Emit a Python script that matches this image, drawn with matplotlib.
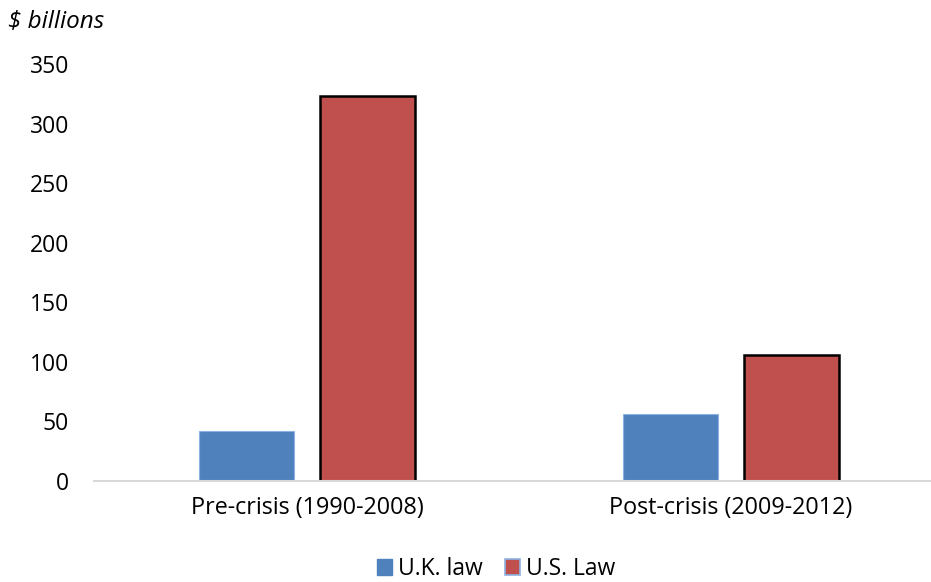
import numpy as np
import matplotlib
matplotlib.use("Agg")
import matplotlib.pyplot as plt
from matplotlib.patches import Patch

plt.rcParams['font.family'] = ['Open Sans', 'DejaVu Sans']

# data ($ billions)
categories = ['Pre-crisis (1990-2008)', 'Post-crisis (2009-2012)']
uk_law = [42, 56]
us_law = [323, 106]
series_names = ['U.K. law', 'U.S. Law']
yticks = [0, 50, 100, 150, 200, 250, 300, 350]

fig = plt.figure(figsize=(9.31, 5.82), dpi=100)
ax = fig.add_axes([94/931, 1 - 481/582, 836/931, (481 - 64)/582])

x = np.arange(len(categories))
w = 0.224
off = 0.143
ax.bar(x - off, uk_law, w, color='#4f81bd', edgecolor='#8db3e2', linewidth=0.8, zorder=3)
ax.bar(x + off, us_law, w, color='#c0504d', edgecolor='black', linewidth=1.8, zorder=3)

ax.set_xlim(-0.502, 1.469)
ax.set_ylim(0, 350)
ax.set_yticks(yticks)
ax.set_xticks(x)
ax.set_xticklabels(categories)
ax.tick_params(axis='y', length=0, pad=18, labelsize=16.5)
ax.tick_params(axis='x', length=0, pad=11, labelsize=16.8)

for s in ['top', 'right', 'left']:
    ax.spines[s].set_visible(False)
ax.spines['bottom'].set_color('#d9d9d9')
ax.spines['bottom'].set_linewidth(1.5)
ax.spines['bottom'].set_zorder(4)

fig.text(8/931, 1 - 22/582, '$ billions', fontsize=17.5, style='italic', va='center', ha='left')

handles = [Patch(facecolor='#4f81bd', edgecolor='#4f81bd'),
           Patch(facecolor='#c0504d', edgecolor='#8db3e2', linewidth=1.2)]
fig.legend(handles, series_names, loc='center', bbox_to_anchor=(496/931, 1 - 569/582),
           ncol=2, frameon=False, fontsize=16.5, handlelength=0.65, handleheight=0.65,
           handletextpad=0.25, columnspacing=1.0)

fig.savefig('out.png', dpi=100)
